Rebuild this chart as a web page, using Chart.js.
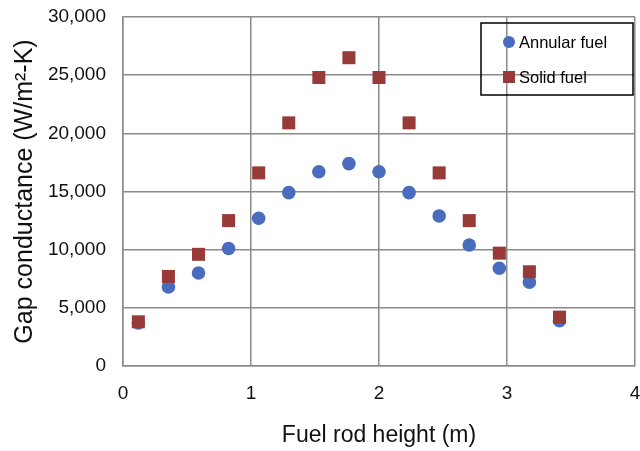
<!DOCTYPE html>
<html>
<head>
<meta charset="utf-8">
<title>Gap conductance</title>
<script src="https://cdn.jsdelivr.net/npm/chart.js@4.4.1/dist/chart.umd.min.js"></script>
<style>
  html, body { margin: 0; padding: 0; background: #fff; }
  #wrap { width: 640px; height: 451px; }
</style>
</head>
<body>
<div id="wrap"><canvas id="gapChart" width="640" height="451"></canvas></div>
<script>
// Alturas de la barra y conductancia del hueco
var heights = [0.12, 0.355, 0.59, 0.825, 1.06, 1.295, 1.53, 1.765, 2.0, 2.235, 2.47, 2.705, 2.94, 3.175, 3.41];
var annular = [3700, 6800, 8000, 10100, 12700, 14900, 16700, 17400, 16700, 14900, 12900, 10400, 8400, 7200, 3900];
var solid = [3800, 7700, 9600, 12500, 16600, 20900, 24800, 26500, 24800, 20900, 16600, 12500, 9700, 8100, 4200];
var seriesNames = ['Annular fuel', 'Solid fuel'];

var blue = '#4a6cbf';
var red = '#983b38';
var gridColor = '#8a8a8a';
var fontFamily = '"Liberation Sans", Arial, sans-serif';

function toPoints(xs, ys) {
    return xs.map(function (x, i) { return { x: x, y: ys[i] }; });
}

// El área del gráfico llega casi hasta el borde derecho
var rightEdge = {
    id: 'rightEdge',
    afterLayout: function (chart) {
        var area = chart.chartArea;
        var xs = chart.scales.x;
        area.right = chart.width - 5;
        area.width = area.right - area.left;
        xs.right = area.right;
        xs.width = xs.right - xs.left;
        xs.configure();
    }
};

// Leyenda con borde dentro del área del gráfico
var boxLegend = {
    id: 'boxLegend',
    afterDraw: function (chart) {
        var ctx = chart.ctx;
        var area = chart.chartArea;
        var right = area.right - 2;
        var left = right - 152;
        var top = area.top + 6;
        var h = 72;
        ctx.save();
        ctx.strokeStyle = '#000';
        ctx.lineWidth = 1.5;
        ctx.strokeRect(left, top, right - left, h);
        ctx.font = '16.5px ' + fontFamily;
        ctx.textBaseline = 'middle';
        var mx = left + 28;
        chart.data.datasets.forEach(function (ds, i) {
            var cy = top + 19 + i * 35;
            ctx.fillStyle = ds.backgroundColor;
            if (ds.pointStyle === 'rect') {
                ctx.fillRect(mx - 6, cy - 6, 12, 12);
            } else {
                ctx.beginPath();
                ctx.arc(mx, cy, 6, 0, Math.PI * 2);
                ctx.fill();
            }
            ctx.fillStyle = '#000';
            ctx.fillText(ds.label, mx + 10, cy + 1);
        });
        ctx.restore();
    }
};

// Sin relleno extra por las etiquetas de los extremos
function noEdgePadding(scale) {
    scale.paddingTop = 0;
    scale.paddingBottom = 0;
    scale.paddingLeft = 0;
    scale.paddingRight = 0;
}

var ctx = document.getElementById('gapChart').getContext('2d');

var gapChart = new Chart(ctx, {
    type: 'scatter',
    data: {
        datasets: [{
            label: seriesNames[0],
            data: toPoints(heights, annular),
            pointStyle: 'circle',
            pointRadius: 6.8,
            pointHoverRadius: 6.8,
            backgroundColor: blue,
            borderColor: blue,
            borderWidth: 0,
            order: 1
        }, {
            label: seriesNames[1],
            data: toPoints(heights, solid),
            pointStyle: 'rect',
            pointRadius: 9.2,
            pointHoverRadius: 9.2,
            backgroundColor: red,
            borderColor: red,
            borderWidth: 0,
            order: 0
        }]
    },
    options: {
        responsive: false,
        animation: false,
        layout: { padding: { top: 17, right: 5, left: 0, bottom: 0 } },
        plugins: {
            legend: { display: false },
            tooltip: { enabled: false }
        },
        scales: {
            x: {
                type: 'linear',
                min: 0,
                max: 4,
                afterFit: function (scale) {
                    scale.height = 85;
                    noEdgePadding(scale);
                },
                ticks: {
                    stepSize: 1,
                    padding: 16,
                    color: '#111',
                    font: { family: fontFamily, size: 19 }
                },
                grid: { color: gridColor, lineWidth: 1.5, drawTicks: false },
                border: { color: gridColor, width: 1.5 },
                title: {
                    display: true,
                    text: 'Fuel rod height (m)',
                    color: '#111',
                    font: { family: fontFamily, size: 23 },
                    padding: { top: 2, bottom: 2 }
                }
            },
            y: {
                min: 0,
                max: 30000,
                afterFit: function (scale) {
                    scale.width = 123;
                    noEdgePadding(scale);
                },
                ticks: {
                    stepSize: 5000,
                    padding: 17,
                    color: '#111',
                    font: { family: fontFamily, size: 19 }
                },
                grid: { color: gridColor, lineWidth: 1.5, drawTicks: false },
                border: { color: gridColor, width: 1.5 },
                title: {
                    display: true,
                    text: 'Gap conductance (W/m²-K)',
                    color: '#111',
                    font: { family: fontFamily, size: 25 },
                    padding: { top: 10, bottom: 0 }
                }
            }
        }
    },
    plugins: [rightEdge, boxLegend]
});
</script>
</body>
</html>
